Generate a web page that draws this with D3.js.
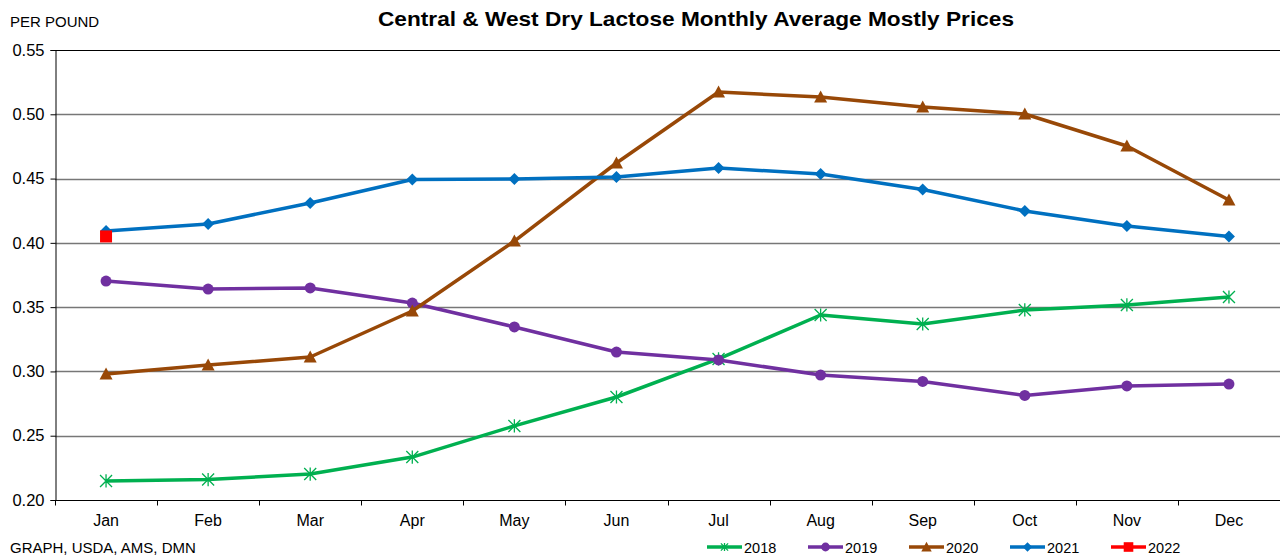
<!DOCTYPE html>
<html>
<head>
<meta charset="utf-8">
<script src="https://cdn.jsdelivr.net/npm/d3@7"></script>
<style>
  html, body { margin: 0; padding: 0; background: #fff; }
  svg { display: block; font-family: "Liberation Sans", Arial, sans-serif; }
</style>
</head>
<body>
<svg id="chart" width="1280" height="556"></svg>
<script>
// Monthly average mostly prices, dollars per pound
const months = ["Jan","Feb","Mar","Apr","May","Jun","Jul","Aug","Sep","Oct","Nov","Dec"];
const yTicks = [0.20, 0.25, 0.30, 0.35, 0.40, 0.45, 0.50, 0.55];

const prices2018 = [0.2148, 0.2159, 0.2202, 0.2334, 0.2576, 0.2801, 0.3097, 0.3439, 0.3369, 0.3478, 0.3517, 0.3579];
const prices2019 = [0.3703, 0.3641, 0.3649, 0.3532, 0.3346, 0.3151, 0.3089, 0.2972, 0.2922, 0.2813, 0.2887, 0.2902];
const prices2020 = [0.2980, 0.3050, 0.3112, 0.3470, 0.4014, 0.4621, 0.5173, 0.5134, 0.5057, 0.5002, 0.4753, 0.4333];
const prices2021 = [0.4092, 0.4147, 0.4310, 0.4493, 0.4497, 0.4512, 0.4582, 0.4536, 0.4415, 0.4248, 0.4131, 0.4049];
const prices2022 = [0.4050];

const series = [
  { name: "2018", values: prices2018, color: "#00B050", marker: "star" },
  { name: "2019", values: prices2019, color: "#7030A0", marker: "circle" },
  { name: "2020", values: prices2020, color: "#984807", marker: "triangle" },
  { name: "2021", values: prices2021, color: "#0070C0", marker: "diamond" },
  { name: "2022", values: prices2022, color: "#FF0000", marker: "square" }
];

const svg = d3.select("#chart");
const plot = { left: 55, right: 1280, top: 50, bottom: 500 };

const x = d3.scaleBand().domain(months).range([plot.left, plot.right]);
const y = d3.scaleLinear().domain([0.20, 0.55]).range([plot.bottom, plot.top]);

// Title and captions
svg.append("text")
  .attr("x", 696).attr("y", 26)
  .attr("text-anchor", "middle")
  .attr("font-family", "'Liberation Sans Narrow', 'Liberation Sans', Arial, sans-serif")
  .attr("font-size", 21).attr("font-weight", "bold")
  .attr("textLength", 636).attr("lengthAdjust", "spacingAndGlyphs")
  .text("Central & West Dry Lactose Monthly Average Mostly Prices");
svg.append("text").attr("x", 10).attr("y", 27).attr("font-size", 15).text("PER POUND");
svg.append("text").attr("x", 10).attr("y", 553).attr("font-size", 15).text("GRAPH, USDA, AMS, DMN");

// Horizontal gridlines
svg.append("g").selectAll("line")
  .data(yTicks.filter(t => t > 0.2))
  .join("line")
  .attr("x1", plot.left).attr("x2", plot.right)
  .attr("y1", d => Math.round(y(d)) + 0.5).attr("y2", d => Math.round(y(d)) + 0.5)
  .attr("stroke", d => d === 0.55 ? "#000" : "#777")
  .attr("stroke-width", d => d === 0.55 ? 1 : 1.5);

// Y axis
const yAxis = svg.append("g")
  .attr("transform", `translate(${plot.left + 0.5},0)`)
  .call(d3.axisLeft(y).tickValues(yTicks).tickFormat(d3.format(".2f")).tickSize(5).tickPadding(6));
yAxis.select(".domain").attr("stroke", "#000");
yAxis.selectAll(".tick line").attr("stroke", "#000");
yAxis.selectAll(".tick text").attr("font-size", 16.5).attr("fill", "#000")
  .attr("font-family", "'Liberation Sans', Arial, sans-serif");

// X axis: ticks sit between categories
const xAxis = svg.append("g")
  .attr("transform", `translate(0,${plot.bottom + 0.5})`);
xAxis.append("line")
  .attr("x1", plot.left).attr("x2", plot.right)
  .attr("stroke", "#000");
xAxis.selectAll("line.tk")
  .data(d3.range(months.length + 1))
  .join("line").attr("class", "tk")
  .attr("x1", i => Math.round(plot.left + i * x.step()) + 0.5)
  .attr("x2", i => Math.round(plot.left + i * x.step()) + 0.5)
  .attr("y1", 0).attr("y2", 5)
  .attr("stroke", "#000");
xAxis.selectAll("text")
  .data(months)
  .join("text")
  .attr("x", d => x(d) + x.bandwidth() / 2)
  .attr("y", 25)
  .attr("text-anchor", "middle")
  .attr("font-size", 16)
  .text(d => d);

// Marker drawing helper
function drawMarker(g, type, color, cx, cy, scale = 1) {
  const s = scale;
  if (type === "circle") {
    g.append("circle").attr("cx", cx).attr("cy", cy).attr("r", 5.5 * s).attr("fill", color);
  } else if (type === "triangle") {
    const h = 6.5 * s;
    g.append("path")
      .attr("d", `M${cx},${cy - h} L${cx + h},${cy + h * 0.85} L${cx - h},${cy + h * 0.85} Z`)
      .attr("fill", color);
  } else if (type === "diamond") {
    const h = 6 * s;
    g.append("path")
      .attr("d", `M${cx},${cy - h} L${cx + h},${cy} L${cx},${cy + h} L${cx - h},${cy} Z`)
      .attr("fill", color);
  } else if (type === "square") {
    const h = 6 * s;
    g.append("rect").attr("x", cx - h).attr("y", cy - h).attr("width", 2 * h).attr("height", 2 * h)
      .attr("fill", color);
  } else if (type === "star") {
    const h = 6 * s;
    const p = `M${cx - h},${cy - h} L${cx + h},${cy + h} M${cx - h},${cy + h} L${cx + h},${cy - h} M${cx},${cy - h * 1.1} L${cx},${cy + h * 1.1}`;
    g.append("path").attr("d", p).attr("stroke", color).attr("stroke-width", 1.3).attr("fill", "none");
  }
}

// Series lines and markers
const line = d3.line();
series.forEach(s => {
  const g = svg.append("g");
  const pts = s.values.map((v, i) => [x(months[i]) + x.bandwidth() / 2, y(v)]);
  if (pts.length > 1) {
    g.append("path").attr("d", line(pts))
      .attr("fill", "none").attr("stroke", s.color)
      .attr("stroke-width", 3.5).attr("stroke-linejoin", "round");
  }
  pts.forEach(p => drawMarker(g, s.marker, s.color, p[0], p[1]));
});

// Legend
const legend = svg.append("g");
series.forEach((s, i) => {
  const lx = 707 + i * 101, ly = 547;
  legend.append("line").attr("x1", lx).attr("x2", lx + 35)
    .attr("y1", ly).attr("y2", ly)
    .attr("stroke", s.color).attr("stroke-width", 3.5);
  drawMarker(legend, s.marker, s.color, lx + 17.5, ly, s.marker === "star" ? 0.6 : 0.8);
  legend.append("text").attr("x", lx + 37).attr("y", ly + 5.5)
    .attr("font-size", 14.5).text(s.name);
});
</script>
</body>
</html>
